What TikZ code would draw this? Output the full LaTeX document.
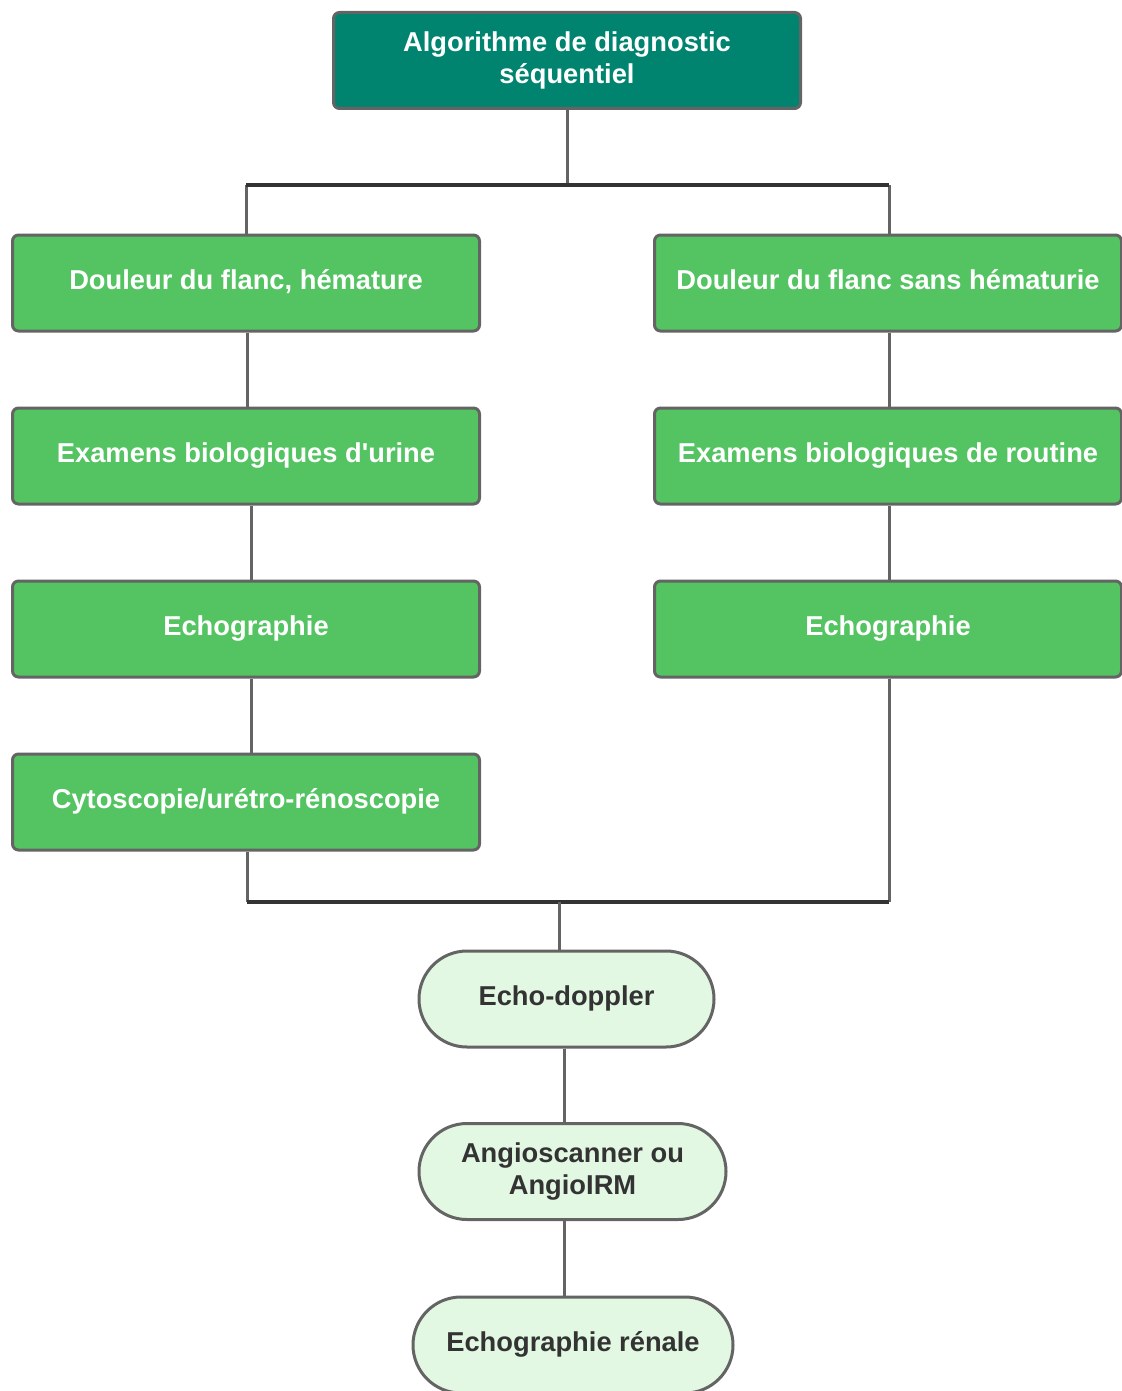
\documentclass[tikz,border=0pt]{standalone}
\usepackage{fontspec}
\setmainfont{Liberation Sans}
\usetikzlibrary{shapes.misc}
\definecolor{teal1}{RGB}{0,132,111}
\definecolor{green1}{RGB}{84,196,98}
\definecolor{pale1}{RGB}{226,248,226}
\definecolor{edge1}{RGB}{100,100,100}
\definecolor{dark1}{RGB}{51,51,51}
\begin{document}
\begin{tikzpicture}[x=1pt,y=-1pt,
  txt/.style={font=\fontsize{27.3}{32}\selectfont\bfseries, align=center,
    text height=19pt, text depth=7pt},
  multi/.style={text height={}, text depth={}},
  topbox/.style={txt, draw=edge1, line width=3pt, fill=teal1, text=white, rounded corners=6pt,
    minimum width=467pt, minimum height=96pt, inner sep=0pt},
  gbox/.style={txt, draw=edge1, line width=3pt, fill=green1, text=white, rounded corners=6pt,
    minimum width=467pt, minimum height=96pt, inner sep=0pt},
  pill/.style={txt, text=dark1, draw=edge1, line width=3pt, fill=pale1, rounded rectangle,
    minimum height=96pt, inner sep=0pt},
  conn/.style={draw=edge1, line width=3pt},
  barline/.style={draw=dark1, line width=3.5pt},
]
\useasboundingbox (0,0) rectangle (1121,1391);
\node[topbox, multi] (top) at (567,60.5) {Algorithme de diagnostic\\séquentiel};
\node[gbox] (L1) at (246,283) {Douleur du flanc, hémature};
\node[gbox] (L2) at (246,456) {Examens biologiques d\textquotesingle urine};
\node[gbox] (L3) at (246,629) {Echographie};
\node[gbox] (L4) at (246,802) {Cytoscopie/urétro-rénoscopie};
\node[gbox] (R1) at (888,283) {Douleur du flanc sans hématurie};
\node[gbox] (R2) at (888,456) {Examens biologiques de routine};
\node[gbox] (R3) at (888,629) {Echographie};
\node[pill, minimum width=295pt] (E1) at (566.5,999) {Echo-doppler};
\node[pill, multi, minimum width=307pt] (E2) at (572.5,1171.5) {Angioscanner ou\\AngioIRM};
\node[pill, minimum width=320pt] (E3) at (573,1345) {Echographie rénale};
\coordinate (bl) at (246,185);
\coordinate (bm) at (567,185);
\coordinate (br) at (889,185);
\coordinate (cl) at (247,902);
\coordinate (cm) at (559,902);
\coordinate (cr) at (889,902);
% top tree
\draw[conn] (top.south) -- (bm);
\draw[conn] (bl) -- (bl |- L1.north);
\draw[conn] (br) -- (br |- R1.north);
\draw[barline] (bl) -- (br);
% left chain
\draw[conn] ([xshift=1pt]L1.south) -- ([xshift=1pt]L2.north);
\draw[conn] ([xshift=5pt]L2.south) -- ([xshift=5pt]L3.north);
\draw[conn] ([xshift=5pt]L3.south) -- ([xshift=5pt]L4.north);
% right chain
\draw[conn] ([xshift=1pt]R1.south) -- ([xshift=1pt]R2.north);
\draw[conn] ([xshift=1pt]R2.south) -- ([xshift=1pt]R3.north);
% bottom join
\draw[conn] (cl |- L4.south) -- (cl);
\draw[conn] (cr |- R3.south) -- (cr);
\draw[barline] (cl) -- (cr);
\draw[conn] (cm) -- (cm |- E1.north);
\draw[conn] ([xshift=-2.5pt]E1.south) -- ([xshift=-8.5pt]E2.north);
\draw[conn] ([xshift=-8.5pt]E2.south) -- ([xshift=-9pt]E3.north);
\end{tikzpicture}
\end{document}
